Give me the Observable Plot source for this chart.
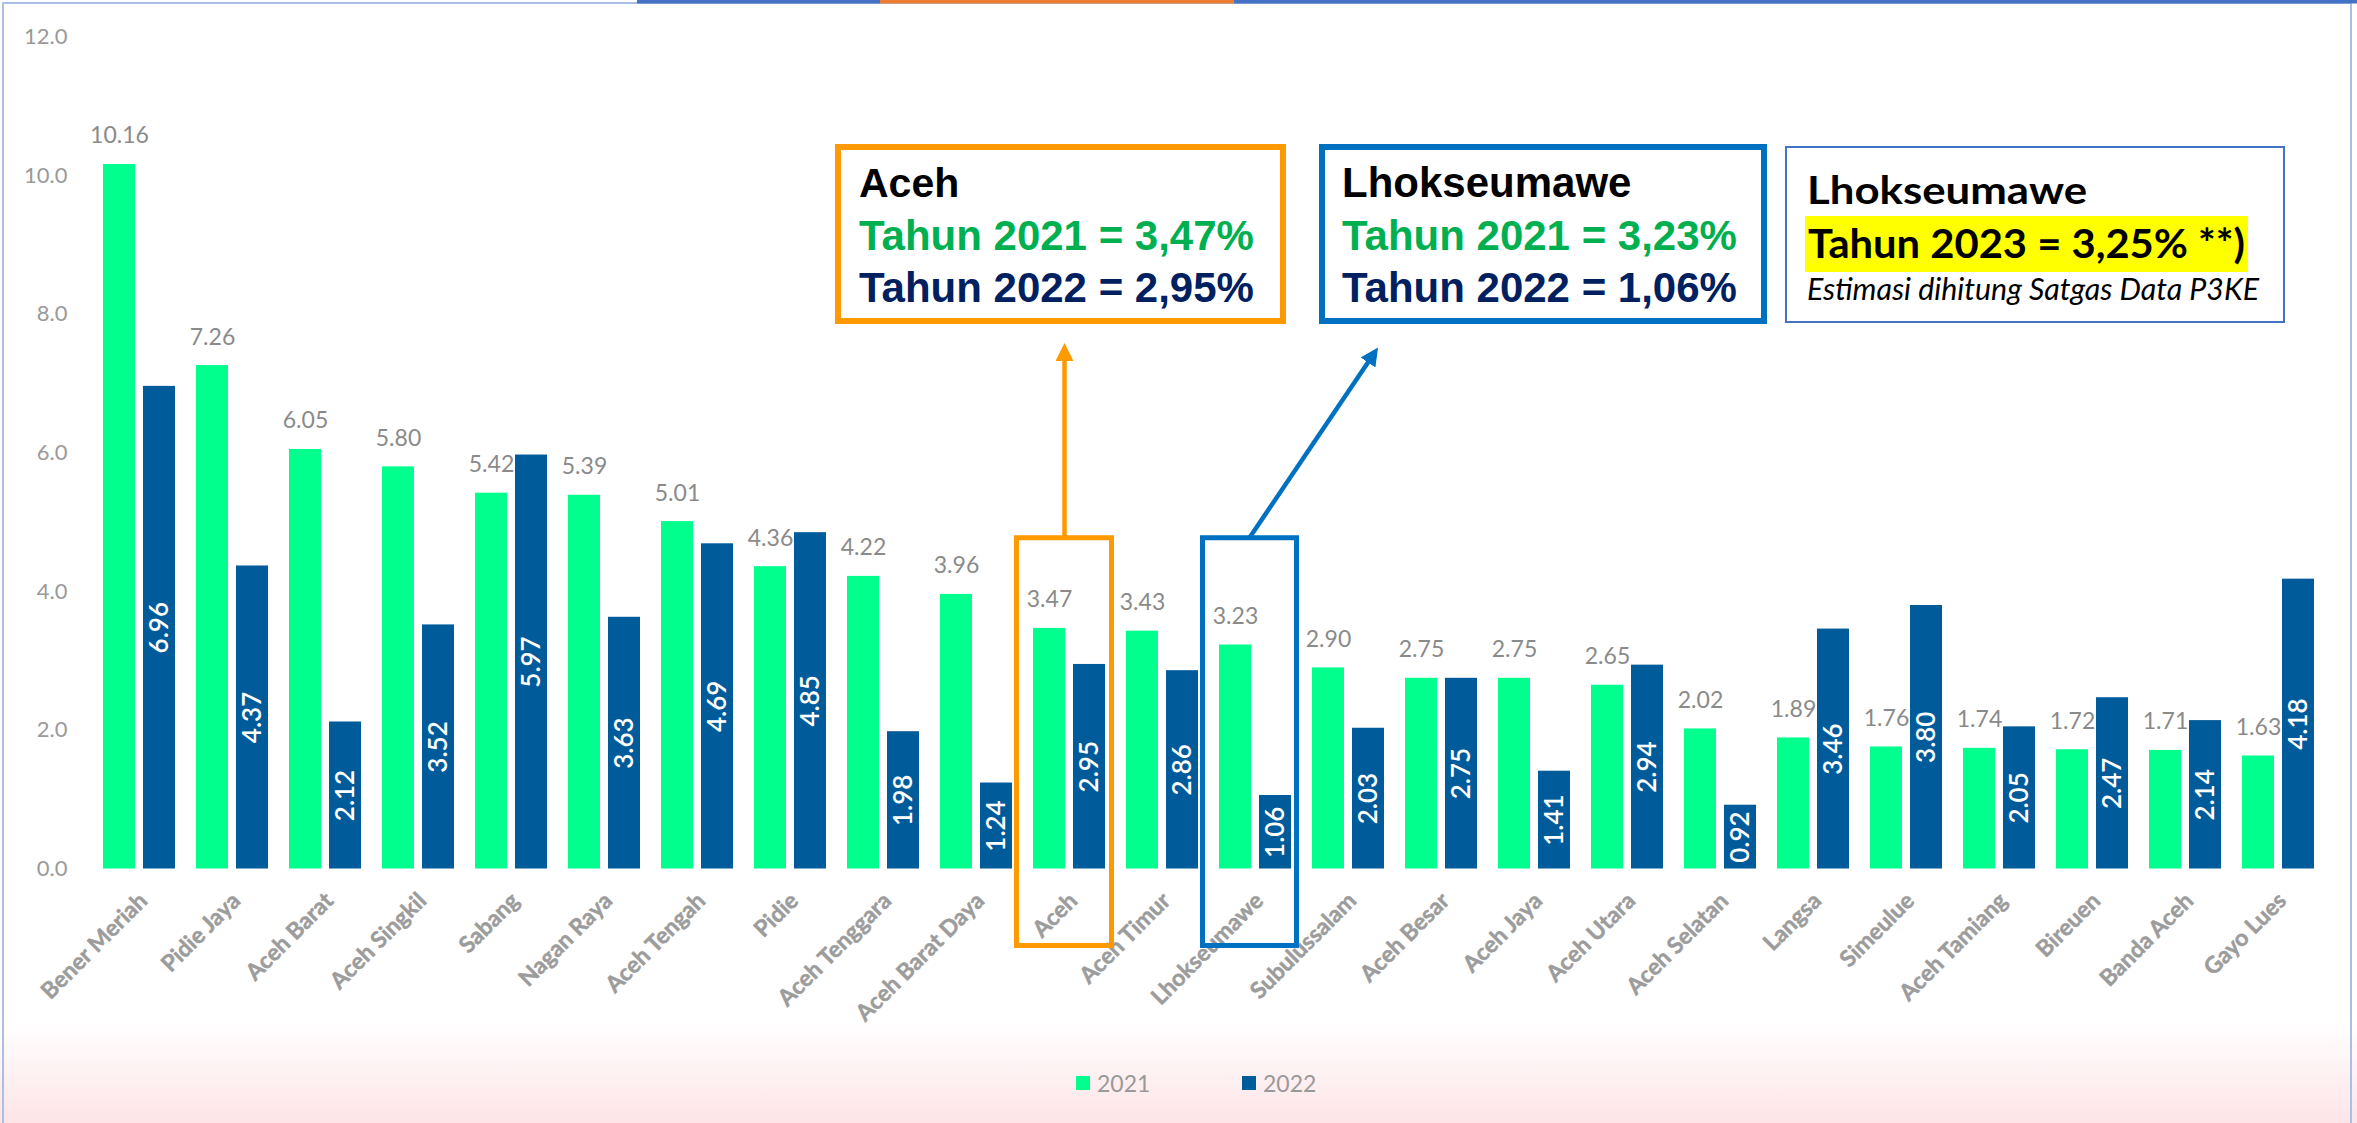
<!DOCTYPE html>
<html>
<head>
<meta charset="utf-8">
<script src="https://cdn.jsdelivr.net/npm/d3@7"></script>
<script src="https://cdn.jsdelivr.net/npm/@observablehq/plot@0.6"></script>
<style>
  html, body { margin: 0; padding: 0; background: #fff; }
  #page {
    position: relative; width: 2357px; height: 1123px; overflow: hidden;
    background: linear-gradient(to bottom, #ffffff 0px, #ffffff 1022px, #fde4e7 1123px);
    font-family: Lato, sans-serif;
  }
  #chart { position: absolute; left: 0; top: 0; }
  #chart svg { background: transparent; overflow: visible; }
  #legend { position: absolute; left: 0; top: 1068px; width: 2357px; height: 30px; }
  .li { position: absolute; top: 0; height: 30px; display: flex; align-items: center; font-family: Lato, sans-serif; font-size: 23px; color: #999; }
  .sw { width: 14px; height: 14px; margin-right: 7px; }
  #overlay { position: absolute; left: 0; top: 0; pointer-events: none; }
</style>
</head>
<body>
<div id="page">
  <div id="chart"></div>
  <div id="legend"></div>
  <svg id="overlay" width="2357" height="1123"></svg>
</div>
<script>
const categories = ["Bener Meriah","Pidie Jaya","Aceh Barat","Aceh Singkil","Sabang","Nagan Raya","Aceh Tengah","Pidie","Aceh Tenggara","Aceh Barat Daya","Aceh","Aceh Timur","Lhokseumawe","Subulussalam","Aceh Besar","Aceh Jaya","Aceh Utara","Aceh Selatan","Langsa","Simeulue","Aceh Tamiang","Bireuen","Banda Aceh","Gayo Lues"];
const values2021 = [10.16,7.26,6.05,5.80,5.42,5.39,5.01,4.36,4.22,3.96,3.47,3.43,3.23,2.90,2.75,2.75,2.65,2.02,1.89,1.76,1.74,1.72,1.71,1.63];
const values2022 = [6.96,4.37,2.12,3.52,5.97,3.63,4.69,4.85,1.98,1.24,2.95,2.86,1.06,2.03,2.75,1.41,2.94,0.92,3.46,3.80,2.05,2.47,2.14,4.18];
const yTicks = [0,2,4,6,8,10,12];
const seriesNames = ["2021","2022"];
const seriesColors = ["#00FF8C","#005B9B"];
const highlights = [
  {category: "Aceh", color: "#FF9900"},
  {category: "Lhokseumawe", color: "#0070C0"}
];

const rows2021 = categories.map((c, i) => ({category: c, value: values2021[i]}));
const rows2022 = categories.map((c, i) => ({category: c, value: values2022[i]}));
const fmt = d3.format(".2f");

const plot = Plot.plot({
  width: 2357,
  height: 1062,
  marginLeft: 79,
  marginRight: 20,
  marginTop: 36.4,
  marginBottom: 193.5,
  style: {background: "transparent", fontFamily: "Lato, sans-serif"},
  x: {domain: categories, padding: 0.2275, axis: null},
  y: {domain: [0, 12], axis: null},
  marks: [
    Plot.axisY({ticks: yTicks, tickFormat: d3.format(".1f"), tickSize: 0, tickPadding: 12, fontSize: 22, fill: "#9a9a9a", label: null}),
    // category labels (x axis), rotated
    Plot.text(categories, {x: d => d, y: 0, text: d => d, rotate: -45, textAnchor: "end", lineAnchor: "middle", dy: 28, dx: 4, fontSize: 23, fontWeight: "bold", fill: "#9c9c9c", stroke: "#9c9c9c", strokeWidth: 0.5}),
    Plot.barY(rows2021, {x: "category", y: "value", fill: seriesColors[0], insetRight: 40}),
    Plot.barY(rows2022, {x: "category", y: "value", fill: seriesColors[1], insetLeft: 40}),
    Plot.text(rows2021, {x: "category", y: "value", text: d => fmt(d.value), dx: -20, dy: -21, lineAnchor: "bottom", fontSize: 23, fill: "#8a8a8a"}),
    Plot.text(rows2022, {x: "category", y: d => d.value / 2, text: d => fmt(d.value), dx: 20, rotate: -90, fontSize: 26, fontWeight: 600, fill: "#ffffff"}),
    Plot.barY([highlights[0]], {x: "category", y1: -1.11, y2: 4.77, fill: "none", stroke: "color", strokeWidth: 5, insetLeft: -16.5, insetRight: -6.5}),
    Plot.barY([highlights[1]], {x: "category", y1: -1.11, y2: 4.77, fill: "none", stroke: "color", strokeWidth: 5, insetLeft: -16.5, insetRight: -5.5})
  ]
});
document.getElementById("chart").appendChild(plot);

// legend (HTML, below the chart svg)
const legend = document.getElementById("legend");
const legendX = [1076, 1242];
seriesNames.forEach((name, i) => {
  const item = document.createElement("div");
  item.className = "li";
  item.style.left = legendX[i] + "px";
  item.innerHTML = `<div class="sw" style="background:${seriesColors[i]}"></div><span>${name}</span>`;
  legend.appendChild(item);
});

// overlay: frame, annotation boxes and arrows
const xs = plot.scale("x"), ys = plot.scale("y");
const cx = c => xs.apply(c) + xs.bandwidth / 2;
const ov = d3.select("#overlay");

// frame lines
ov.append("rect").attr("x", 3).attr("y", 3).attr("width", 2348).attr("height", 1130)
  .attr("fill", "none").attr("stroke", "#a9bfe6").attr("stroke-width", 2);
ov.append("rect").attr("x", 637).attr("y", 0).attr("width", 243).attr("height", 3.5).attr("fill", "#4472C4");
ov.append("rect").attr("x", 880).attr("y", 0).attr("width", 354).attr("height", 3.5).attr("fill", "#ED7D31");
ov.append("rect").attr("x", 1234).attr("y", 0).attr("width", 1123).attr("height", 3.5).attr("fill", "#4472C4");

// arrow markers
const defs = ov.append("defs");
[["ah-orange", "#FF9900"], ["ah-blue", "#0070C0"]].forEach(([id, col]) => {
  defs.append("marker").attr("id", id).attr("viewBox", "0 0 10 10").attr("refX", 5).attr("refY", 5)
    .attr("markerWidth", 18).attr("markerHeight", 18).attr("markerUnits", "userSpaceOnUse").attr("orient", "auto")
    .append("path").attr("d", "M0,0 L10,5 L0,10 z").attr("fill", col);
});
const topY = ys.apply(4.77);
ov.append("line").attr("x1", cx("Aceh") - 4.5).attr("y1", topY).attr("x2", cx("Aceh") - 4.5).attr("y2", 352)
  .attr("stroke", "#FF9900").attr("stroke-width", 4.5).attr("marker-end", "url(#ah-orange)");
ov.append("line").attr("x1", cx("Lhokseumawe") - 5.5).attr("y1", topY).attr("x2", 1373).attr("y2", 355)
  .attr("stroke", "#0070C0").attr("stroke-width", 4.5).attr("marker-end", "url(#ah-blue)");

// annotation boxes
function box(x, y, w, h, stroke, sw) {
  ov.append("rect").attr("x", x + sw / 2).attr("y", y + sw / 2).attr("width", w - sw).attr("height", h - sw)
    .attr("fill", "#fff").attr("stroke", stroke).attr("stroke-width", sw);
}
function line(x, y, txt, opts) {
  const t = ov.append("text").attr("x", x).attr("y", y).text(txt)
    .attr("font-family", opts.family || "'Liberation Sans', Arial, sans-serif")
    .attr("font-size", opts.size).attr("font-weight", opts.weight || "bold")
    .attr("fill", opts.fill || "#000");
  if (opts.italic) t.attr("font-style", "italic");
  if (opts.len) t.attr("textLength", opts.len).attr("lengthAdjust", "spacingAndGlyphs");
  return t;
}
box(835, 144, 451, 180, "#FF9900", 6);
line(859, 197, "Aceh", {size: 41});
line(859, 250, "Tahun 2021 = 3,47%", {size: 42, fill: "#00B050"});
line(859, 302, "Tahun 2022 = 2,95%", {size: 42, fill: "#002060"});

box(1319, 144, 448, 180, "#0070C0", 6);
line(1342, 197, "Lhokseumawe", {size: 42});
line(1342, 250, "Tahun 2021 = 3,23%", {size: 42, fill: "#00B050"});
line(1342, 302, "Tahun 2022 = 1,06%", {size: 42, fill: "#002060"});

box(1785, 146, 500, 177, "#4472C4", 2);
ov.append("rect").attr("x", 1805).attr("y", 216).attr("width", 443).attr("height", 56).attr("fill", "#FFFF00");
line(1807, 204, "Lhokseumawe", {size: 39, family: "Lato, sans-serif", len: 280});
line(1808, 258, "Tahun 2023 = 3,25% **)", {size: 40, family: "Lato, sans-serif", len: 437});
line(1807, 300, "Estimasi dihitung Satgas Data P3KE", {size: 30, weight: "normal", italic: true, family: "Lato, sans-serif", len: 452});
</script>
</body>
</html>
